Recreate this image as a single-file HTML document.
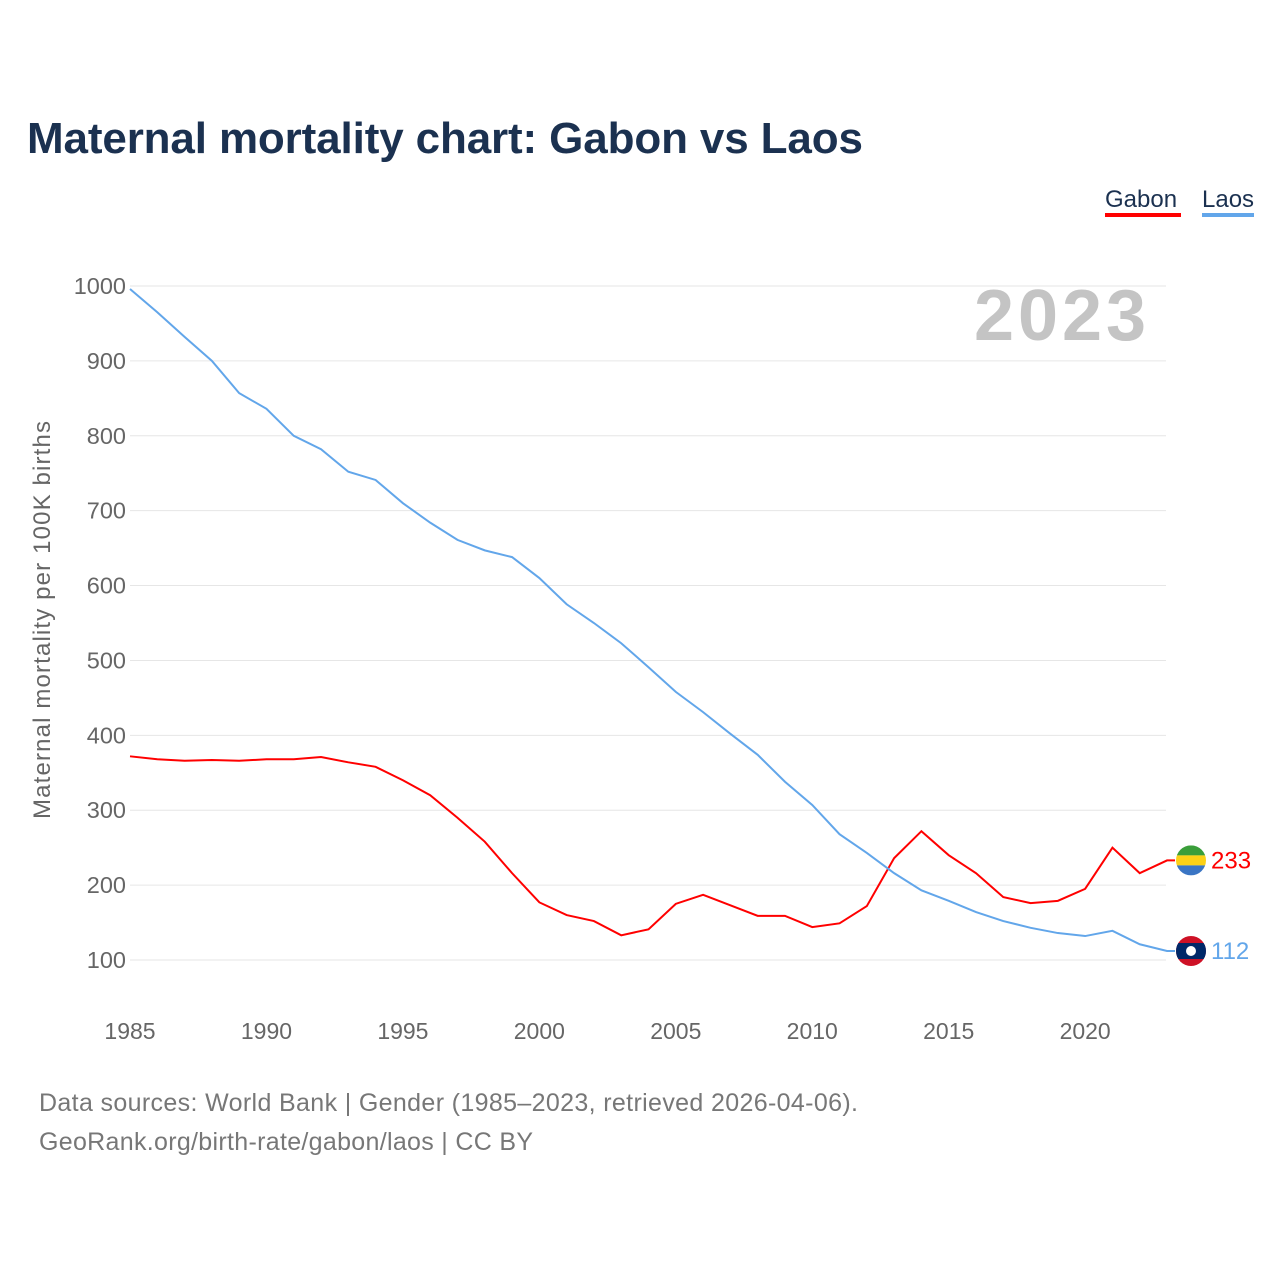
<!DOCTYPE html>
<html><head><meta charset="utf-8"><style>
body{margin:0;background:#fff;width:1280px;height:1280px;overflow:hidden;font-family:"Liberation Sans",sans-serif}
</style></head><body>
<svg id="chart" width="1280" height="1280" xmlns="http://www.w3.org/2000/svg" font-family="Liberation Sans, sans-serif">
<text x="27" y="153" font-size="44" font-weight="bold" fill="#1b3150" textLength="836">Maternal mortality chart: Gabon vs Laos</text>
<g><text x="1105" y="207" font-size="24" fill="#1b3150">Gabon</text><rect x="1105" y="213" width="76" height="4" fill="#ff0000"/></g>
<g><text x="1202" y="207" font-size="24" fill="#1b3150">Laos</text><rect x="1202" y="213" width="52" height="4" fill="#62a6ea"/></g>
<text x="1146" y="340" text-anchor="end" font-size="72" font-weight="bold" fill="#c4c4c4" textLength="172">2023</text>
<text transform="translate(50,620) rotate(-90)" text-anchor="middle" font-size="24" fill="#666" textLength="398">Maternal mortality per 100K births</text>
<g id="grid"></g><g id="yt"></g><g id="xt"></g><g id="lines"></g>
<text x="39" y="1111" font-size="25" fill="#777" textLength="819">Data sources: World Bank | Gender (1985–2023, retrieved 2026-04-06).</text>
<text x="39" y="1150" font-size="25" fill="#777" textLength="494">GeoRank.org/birth-rate/gabon/laos | CC BY</text>
</svg>
<script>
const years=[];for(let y=1985;y<=2023;y++)years.push(y);
const laos=[996,965,932,900,857,836,800,782,752,741,710,684,661,647,638,610,575,550,523,491,458,431,402,374,338,307,268,243,216,193,179,164,152,143,136,132,139,121,112];
const gabon=[372,368,366,367,366,368,368,371,364,358,340,320,290,258,216,177,160,152,133,141,175,187,173,159,159,144,149,172,236,272,240,216,184,176,179,195,250,216,233];
const yTicks=[100,200,300,400,500,600,700,800,900,1000];
const xTicks=[1985,1990,1995,2000,2005,2010,2015,2020];
const NS="http://www.w3.org/2000/svg";
const X=y=>130+(y-1985)*27.29, Y=v=>286+(1000-v)*0.7489;
function mk(t,a,p,txt){const e=document.createElementNS(NS,t);for(const k in a)e.setAttribute(k,a[k]);if(txt!==undefined)e.textContent=txt;document.getElementById(p).appendChild(e);return e;}
yTicks.forEach(v=>{
 const l=mk('line',{x1:130,x2:1166,y1:Y(v),y2:Y(v),stroke:'#e6e6e6','stroke-width':1},'grid');
 
 
 const t=mk('text',{x:126,y:Y(v)+8,'text-anchor':'end','font-size':23.5,fill:'#666'},'yt',v);
 
 
});
xTicks.forEach(v=>{
 const t=mk('text',{x:X(v),y:1039,'text-anchor':'middle','font-size':23,fill:'#666'},'xt',v);
 
 
});
function series(vals,col,name,flag){
 const pts=vals.map((v,i)=>X(years[i])+','+Y(v));
 const last=vals[vals.length-1];
 pts.push((X(2023)+8)+','+Y(last));
 const p=mk('polyline',{points:pts.join(' '),fill:'none',stroke:col,'stroke-width':2},'lines');
 
 
 const cy=Y(last),cx=1191;
 const g=mk('g',{},'lines');
 
 
 const id='c'+name;
 const cp=document.createElementNS(NS,'clipPath');cp.setAttribute('id',id);
 const cc=document.createElementNS(NS,'circle');cc.setAttribute('cx',cx);cc.setAttribute('cy',cy);cc.setAttribute('r',15);cp.appendChild(cc);g.appendChild(cp);
 flag.forEach(f=>{const r=document.createElementNS(NS,f[0]);for(const k in f[1])r.setAttribute(k,f[1][k]);r.setAttribute('clip-path','url(#'+id+')');g.appendChild(r);});
 const t=mk('text',{x:1211,y:cy+8,'font-size':24,fill:col},'lines',last);
 
 
}
const gy=Y(gabon[gabon.length-1]),ly=Y(laos[laos.length-1]);
series(gabon,'#ff0000','gabon',[['rect',{x:1176,y:gy-15,width:30,height:10,fill:'#3a9e3a'}],['rect',{x:1176,y:gy-5,width:30,height:10,fill:'#fcd116'}],['rect',{x:1176,y:gy+5,width:30,height:10,fill:'#3a75c4'}]]);
series(laos,'#62a6ea','laos',[['rect',{x:1176,y:ly-15,width:30,height:30,fill:'#ce1126'}],['rect',{x:1176,y:ly-8,width:30,height:16,fill:'#002868'}],['circle',{cx:1191,cy:ly,r:5,fill:'#fff'}]]);
</script>
</body></html>
